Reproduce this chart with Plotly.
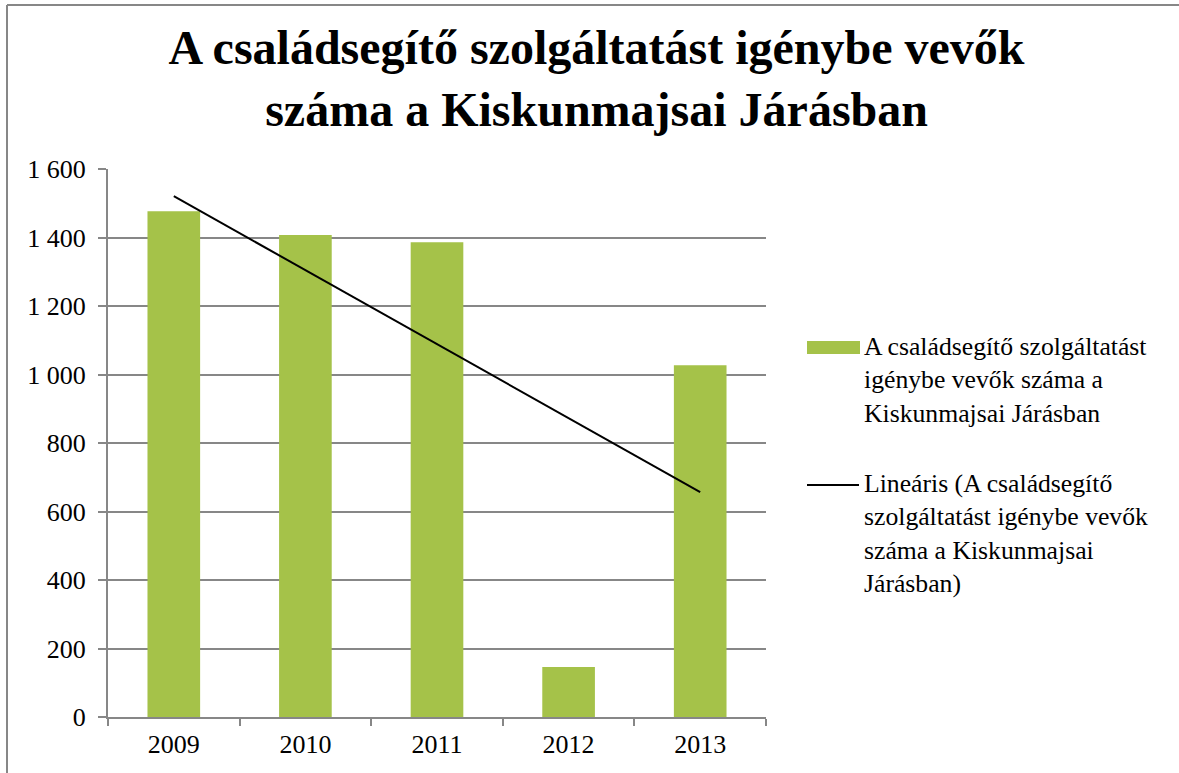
import numpy as np
import plotly.graph_objects as go

years = ["2009", "2010", "2011", "2012", "2013"]
values = [1477, 1407, 1386, 146, 1027]
series_name = "A családsegítő szolgáltatást igénybe vevők száma a Kiskunmajsai Járásban"
trend_name = "Lineáris (A családsegítő szolgáltatást igénybe vevők száma a Kiskunmajsai Járásban)"
title_text = "A családsegítő szolgáltatást igénybe vevők<br>száma a Kiskunmajsai Járásban"
y_ticks = [0, 200, 400, 600, 800, 1000, 1200, 1400, 1600]

# linear trendline (least squares)
xi = np.arange(len(values))
slope, intercept = np.polyfit(xi, values, 1)
trend = list(intercept + slope * xi)

FONT = "Liberation Serif, Times New Roman, serif"
GREEN = "#A5C249"
GRAY = "#878787"

W, H = 1179, 773
L, R, T, B = 108, 766, 169, 717
pw, ph = R - L, B - T

def px(x):
    return (x - L) / pw

def py(y):
    return (B - y) / ph

fig = go.Figure()
fig.add_trace(go.Bar(x=years, y=values, marker=dict(color=GREEN, line=dict(width=0)),
                     name=series_name, showlegend=False))
fig.add_trace(go.Scatter(x=years, y=trend, mode="lines", line=dict(color="black", width=2),
                         name=trend_name, showlegend=False))

shapes = [
    # outer border (left and top)
    dict(type="line", xref="paper", yref="paper", x0=px(7), x1=px(7), y0=py(5), y1=py(H + 5),
         line=dict(color=GRAY, width=2)),
    dict(type="line", xref="paper", yref="paper", x0=px(7), x1=px(W + 5), y0=py(5), y1=py(5),
         line=dict(color=GRAY, width=2)),
    # legend symbols
    dict(type="rect", xref="paper", yref="paper", x0=px(807), x1=px(860), y0=py(341), y1=py(354),
         fillcolor=GREEN, line=dict(width=0)),
    dict(type="line", xref="paper", yref="paper", x0=px(807), x1=px(859), y0=py(485), y1=py(485),
         line=dict(color="black", width=2)),
]

annotations = [
    dict(xref="paper", yref="paper", x=px(862), y=py(330), xanchor="left", yanchor="top",
         align="left", showarrow=False,
         text="A családsegítő szolgáltatást<br>igénybe vevők száma a<br>Kiskunmajsai Járásban",
         font=dict(family=FONT, size=25.7, color="black")),
    dict(xref="paper", yref="paper", x=px(862), y=py(467), xanchor="left", yanchor="top",
         align="left", showarrow=False,
         text="Lineáris (A családsegítő<br>szolgáltatást igénybe vevők<br>száma a Kiskunmajsai<br>Járásban)",
         font=dict(family=FONT, size=25.7, color="black")),
]

fig.update_layout(
    width=W, height=H,
    margin=dict(l=L, r=W - R, t=T, b=H - B, pad=0),
    paper_bgcolor="white", plot_bgcolor="white",
    separators=", ",
    bargap=0.6,
    showlegend=False,
    title=dict(text="<b>" + title_text + "</b>", x=0.506, xref="container", xanchor="center",
               y=1 - 64 / H, yref="container", yanchor="top",
               font=dict(family=FONT, size=48, color="black")),
    font=dict(family=FONT, size=26, color="black"),
    shapes=shapes,
    annotations=annotations,
    xaxis=dict(type="category", showline=True, linecolor=GRAY, linewidth=2,
               ticks="outside", tickson="boundaries", ticklen=7, tickcolor=GRAY, tickwidth=2,
               showgrid=False, tickfont=dict(family=FONT, size=26, color="black"),
               ticklabelstandoff=3),
    yaxis=dict(range=[0, 1600], tickvals=y_ticks, tickformat=",d",
               showline=True, linecolor=GRAY, linewidth=2,
               ticks="outside", ticklen=8, tickcolor=GRAY, tickwidth=2,
               showgrid=True, gridcolor=GRAY, gridwidth=2, zeroline=False,
               tickfont=dict(family=FONT, size=26, color="black"),
               ticklabelstandoff=7),
)

fig.write_html("out.html", config={"displayModeBar": False},
               post_script="document.body.style.margin='0';")
